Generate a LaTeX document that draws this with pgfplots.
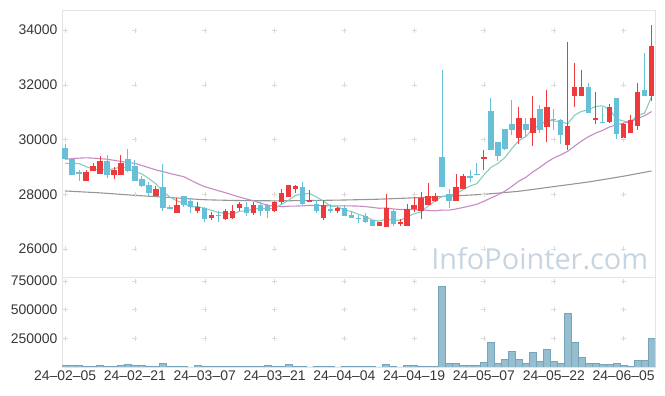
\documentclass[border=0pt]{standalone}
\usepackage{pgfplots}
\usepackage{pgfplotstable}
\pgfplotsset{compat=1.18}
\usepackage{fontspec}
\setmainfont{Liberation Sans}
\newfontfamily\wmfont{Open Sans}
\definecolor{upc}{RGB}{238,58,60}
\definecolor{dnc}{RGB}{104,192,216}
\definecolor{ma5c}{RGB}{136,204,190}
\definecolor{ma20c}{RGB}{200,138,196}
\definecolor{ma60c}{RGB}{150,150,150}
\definecolor{volf}{RGB}{150,190,207}
\definecolor{vold}{RGB}{118,164,186}
\definecolor{framec}{RGB}{228,228,228}
\definecolor{plusc}{RGB}{218,218,218}
\definecolor{labc}{RGB}{55,55,55}
\definecolor{wmc}{RGB}{198,213,225}

\pgfplotstableread{
i o h l c v
0 29700 29850 29250 29300 15000
1 29300 29300 28700 28700 15000
2 28800 28900 28500 28750 15000
3 28500 28900 28500 28800 5000
4 28850 29150 28850 29050 5000
5 28750 29400 28750 29200 15000
6 29200 29450 28600 28700 5000
7 28700 29000 28550 28900 5000
8 28700 29450 28700 29150 15000
9 29300 29650 28800 28850 23000
10 29050 29250 28500 28500 15000
11 28550 28650 28250 28300 15000
12 28350 28450 27950 28050 5000
13 27950 28300 27950 28200 5000
14 28250 29100 27400 27500 32000
15 27550 27600 27450 27450 5000
16 27300 27850 27300 27600 5000
17 27950 27950 27550 27600 5000
18 27750 27850 27300 27550 1000
19 27400 27700 27300 27550 15000
20 27500 27550 27000 27100 5000
21 27150 27350 27050 27250 5000
22 27250 27400 27000 27200 5000
23 27100 27450 27050 27400 5000
24 27150 27600 27100 27400 5000
25 27500 27700 27400 27650 5000
26 27550 27700 27200 27300 5000
27 27300 27700 27250 27600 5000
28 27600 27700 27200 27400 5000
29 27600 27650 27150 27400 15000
30 27400 27750 27350 27700 5000
31 27700 28200 27650 28050 5000
32 27900 28350 27900 28350 26000
33 28200 28350 28050 28300 5000
34 28250 28450 27600 27650 5000
35 27700 28150 27700 27800 1000
36 27650 27800 27300 27400 5000
37 27150 27800 27050 27600 5000
38 27450 27650 27300 27400 5000
39 27400 27550 27300 27500 1000
40 27500 27600 27200 27200 5000
41 27250 27400 27150 27150 5000
42 27150 27250 26950 27100 5000
43 27200 27300 26950 27000 5000
44 27050 27050 26850 26850 5000
45 26850 27000 26850 27000 1000
46 26800 28000 26800 27500 20000
47 27400 27450 26850 26900 5000
48 26900 27100 26850 27000 1000
49 26850 27650 26850 27450 12000
50 27450 27950 27350 27600 12000
51 27400 28100 27100 27850 5000
52 27600 28400 27600 27950 5000
53 27750 28050 27700 27950 5000
54 29350 32550 28250 28250 705000
55 28000 28200 27500 27750 29000
56 27750 28750 27750 28250 29000
57 28200 28750 28200 28650 12000
58 28650 28900 28450 28600 12000
59 28750 29150 28700 28700 12000
60 29300 29600 28900 29350 38000
61 31050 31500 29600 29600 212000
62 29900 29900 29200 29400 29000
63 30400 30400 29600 29650 64000
64 30550 31450 30150 30350 134000
65 30050 31200 29850 30800 64000
66 30550 30800 30100 30350 29000
67 30250 31600 29750 30800 125000
68 31100 31250 30250 30350 46000
69 30450 31800 29900 31200 151000
70 30750 31100 30350 30700 46000
71 30700 30750 29850 30150 29000
72 29800 33550 29600 30500 468000
73 31600 32800 31200 31900 218000
74 31600 32550 31600 31900 81000
75 31900 32050 30950 30950 29000
76 30700 31750 30550 30800 29000
77 30650 31200 30600 30600 20000
78 30650 31300 30600 31200 20000
79 31500 31500 30000 30200 29000
80 30050 30600 30050 30550 15000
81 30250 30900 30250 30700 6000
82 30500 32050 30350 31750 55000
83 31800 33150 31600 31600 55000
84 31600 34200 31400 33400 247000
}\data

\pgfplotstableread{
i v
0 29130
1 29130
2 29120
3 29010
4 28920
5 28900
6 28900
7 28930
8 29000
9 28960
10 28820
11 28740
12 28570
13 28380
14 28110
15 27900
16 27760
17 27670
18 27540
19 27550
20 27480
21 27410
22 27330
23 27300
24 27270
25 27380
26 27390
27 27470
28 27470
29 27470
30 27480
31 27630
32 27780
33 27960
34 28010
35 28030
36 27900
37 27750
38 27570
39 27540
40 27420
41 27370
42 27270
43 27190
44 27060
45 27020
46 27090
47 27050
48 27050
49 27170
50 27290
51 27360
52 27570
53 27760
54 27920
55 27950
56 28030
57 28170
58 28300
59 28390
60 28710
61 28980
62 29130
63 29340
64 29670
65 29960
66 30110
67 30390
68 30530
69 30700
70 30680
71 30640
72 30580
73 30890
74 31030
75 31080
76 31210
77 31230
78 31090
79 30750
80 30670
81 30650
82 30880
83 30960
84 31560
}\maA

\pgfplotstableread{
i v
0 29280
1 29300
2 29320
3 29330
4 29320
5 29300
6 29280
7 29240
8 29200
9 29160
10 29130
11 29050
12 28970
13 28890
14 28830
15 28760
16 28700
17 28640
18 28510
19 28385
20 28275
21 28203
22 28125
23 28055
24 27973
25 27895
26 27825
27 27760
28 27673
29 27600
30 27560
31 27548
32 27563
33 27568
34 27575
35 27593
36 27583
37 27583
38 27575
39 27573
40 27578
41 27573
42 27568
43 27548
44 27520
45 27488
46 27498
47 27463
48 27443
49 27445
50 27440
51 27430
52 27410
53 27393
54 27423
55 27420
56 27463
57 27515
58 27575
59 27635
60 27743
61 27865
62 27980
63 28113
64 28288
65 28478
66 28620
67 28815
68 28983
69 29170
70 29325
71 29440
72 29568
73 29765
74 29948
75 30108
76 30235
77 30333
78 30463
79 30538
80 30598
81 30653
82 30770
83 30868
84 31020
}\maB

\pgfplotstableread{
i v
0 28120
5 28050
10 27960
15 27880
20 27800
25 27770
30 27760
35 27770
40 27790
45 27820
50 27870
55 27930
60 28000
65 28110
70 28280
75 28450
80 28660
84 28850
}\maC

\pgfplotstableread{
x y
0 26000
0 28000
0 30000
0 32000
0 34000
10 26000
10 28000
10 30000
10 32000
10 34000
20 26000
20 28000
20 30000
20 32000
20 34000
30 26000
30 28000
30 30000
30 32000
30 34000
40 26000
40 28000
40 30000
40 32000
40 34000
50 26000
50 28000
50 30000
50 32000
50 34000
60 26000
60 28000
60 30000
60 32000
60 34000
70 26000
70 28000
70 30000
70 32000
70 34000
80 26000
80 28000
80 30000
80 32000
80 34000
}\plusP

\pgfplotstableread{
x y
0 250000
0 500000
0 750000
10 250000
10 500000
10 750000
20 250000
20 500000
20 750000
30 250000
30 500000
30 750000
40 250000
40 500000
40 750000
50 250000
50 500000
50 750000
60 250000
60 500000
60 750000
70 250000
70 500000
70 750000
80 250000
80 500000
80 750000
}\plusV

\begin{document}
\begin{tikzpicture}
\useasboundingbox (0bp,0bp) rectangle (665bp,396bp);
\pgfplotsset{
  every axis/.append style={
    scale only axis,
    xmin=-0.45, xmax=84.5,
    axis line style={draw=framec},
    major tick length=0pt,
    tick label style={font=\fontsize{14}{14}\selectfont, text=labc},
    scaled ticks=false,
    /pgf/number format/assume math mode=true,
    clip=true,
  },
  candle/.style={only marks, mark=*, mark size=0pt,
    mark options={draw opacity=0, fill opacity=0},
    error bars/.cd, y dir=plus, y explicit, error mark=none},
}
% price panel
\begin{axis}[
  at={(62bp,119bp)}, anchor=south west,
  width=593bp, height=267bp,
  ymin=24977, ymax=34731,
  ytick={26000,28000,30000,32000,34000},
  yticklabels={26000,28000,30000,32000,34000},
  yticklabel style={xshift=-1bp},
  xtick=\empty,
  unbounded coords=discard,
]
\addplot[only marks, mark=+, mark size=2.5bp, color=plusc, forget plot] table[x=x,y=y]{\plusP};
% MA lines
\addplot[ma60c, line width=1.1bp, smooth, tension=0.3] table[x=i,y=v]{\maC};
\addplot[ma20c, line width=1.1bp] table[x=i,y=v]{\maB};
\addplot[ma5c, line width=1.1bp] table[x=i,y=v]{\maA};
% wicks
\addplot[candle, error bar style={line width=1bp, draw=upc}]
  table[x=i, y expr={\thisrow{c}>=\thisrow{o} ? \thisrow{l} : nan}, y error expr={\thisrow{h}-\thisrow{l}}]{\data};
\addplot[candle, error bar style={line width=1bp, draw=dnc}]
  table[x=i, y expr={\thisrow{c}<\thisrow{o} ? \thisrow{l} : nan}, y error expr={\thisrow{h}-\thisrow{l}}]{\data};
% bodies
\addplot[candle, error bar style={line width=5.4bp, draw=upc}]
  table[x=i, y expr={\thisrow{c}>=\thisrow{o} ? \thisrow{o} : nan}, y error expr={max(\thisrow{c}-\thisrow{o},45)}]{\data};
\addplot[candle, error bar style={line width=5.4bp, draw=dnc}]
  table[x=i, y expr={\thisrow{c}<\thisrow{o} ? \thisrow{c} : nan}, y error expr={max(\thisrow{o}-\thisrow{c},45)}]{\data};
\node[anchor=base east, font=\wmfont\fontsize{29}{29}\selectfont, text=wmc, inner sep=0pt]
  at (rel axis cs:0.989,0.0) [yshift=7bp] {InfoPointer.com};
\end{axis}
% volume panel
\begin{axis}[
  at={(62bp,29bp)}, anchor=south west,
  width=593bp, height=90bp,
  ymin=0, ymax=785000,
  ytick={250000,500000,750000},
  yticklabels={250000,500000,750000},
  yticklabel style={xshift=-1bp},
  xtick={0,10,20,30,40,50,60,70,80},
  xticklabels={24–02–05,24–02–21,24–03–07,24–03–21,24–04–04,24–04–19,24–05–07,24–05–22,24–06–05},
]
\addplot[only marks, mark=+, mark size=2.5bp, color=plusc, forget plot] table[x=x,y=y]{\plusV};
\addplot[ybar, bar width=1, fill=volf, draw=vold, line width=0.6bp] table[x=i,y=v]{\data};
\end{axis}
\end{tikzpicture}
\end{document}
